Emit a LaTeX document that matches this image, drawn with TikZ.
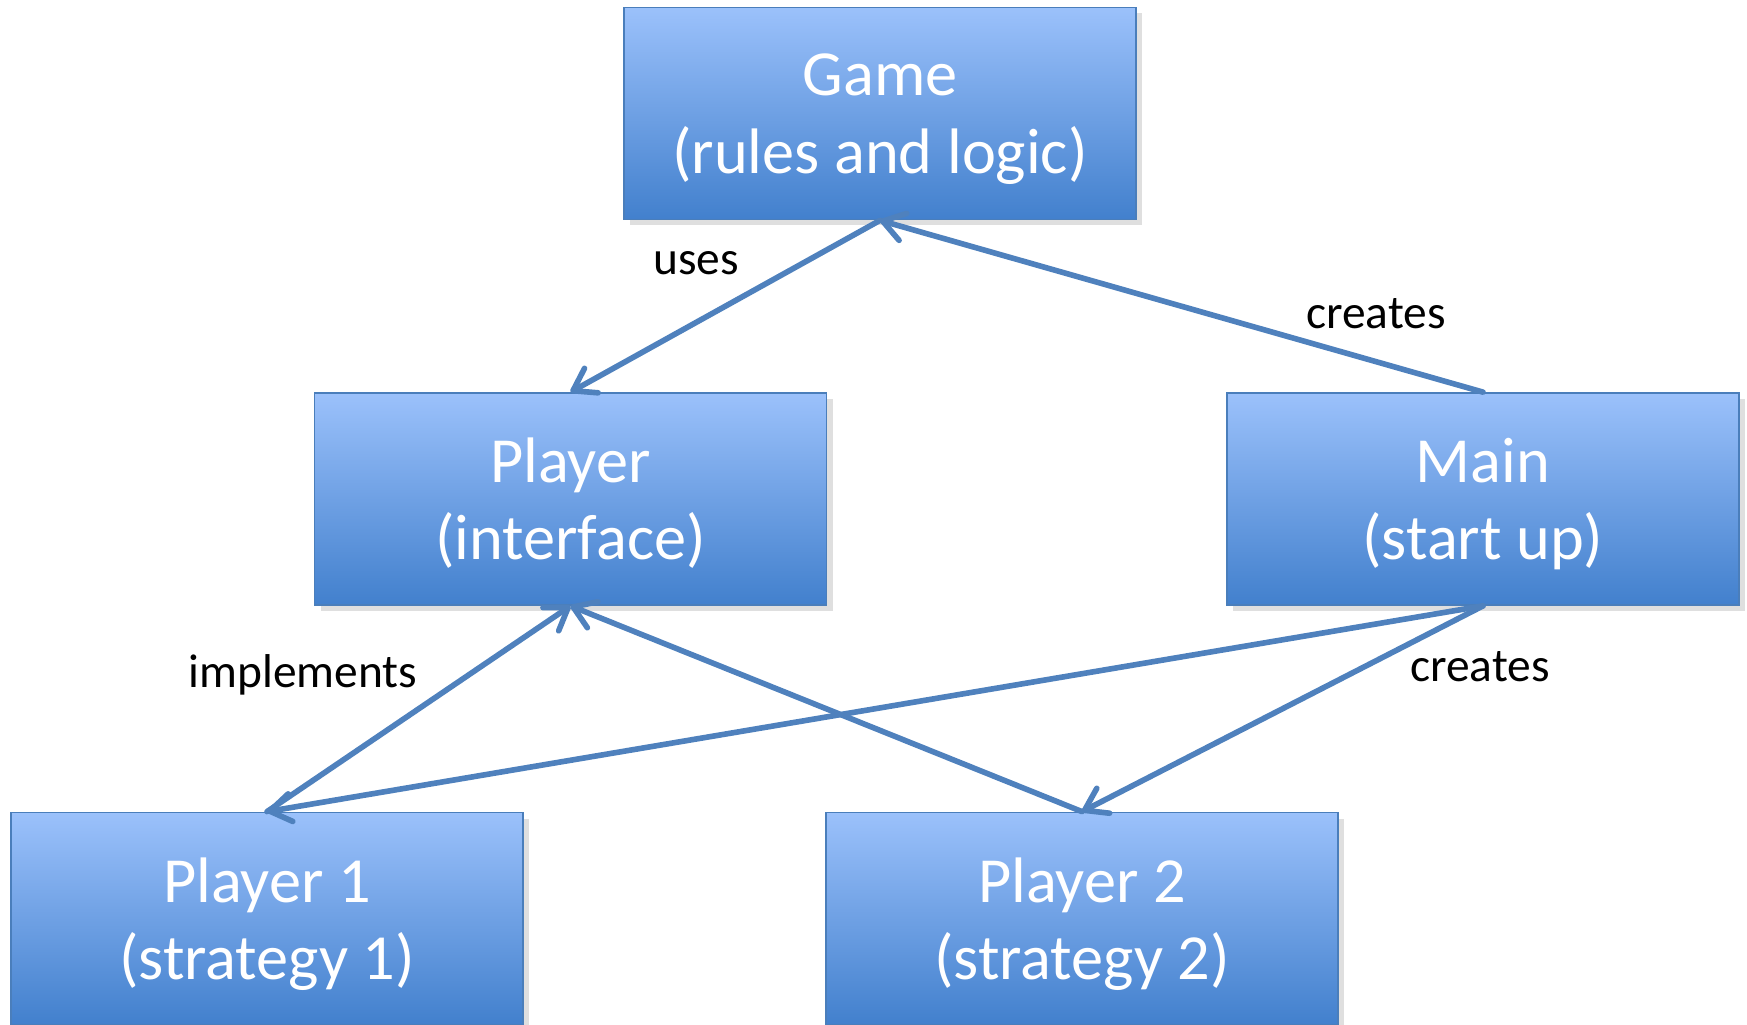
\documentclass[tikz,border=0pt]{standalone}
\usepackage{fontspec}
\setmainfont{Carlito}
\usetikzlibrary{arrows.meta,shadows}

\definecolor{boxtop}{RGB}{155,193,251}
\definecolor{boxmid}{RGB}{120,163,232}
\definecolor{boxbot}{RGB}{66,128,205}
\definecolor{boxedge}{RGB}{74,126,187}
\definecolor{link}{RGB}{79,129,189}

\begin{document}
\begin{tikzpicture}[
		cls/.style={rectangle, draw=boxedge, line width=0.5pt, top color=boxtop, middle color=boxmid, bottom color=boxbot, minimum width=5.12cm, minimum height=2.12cm, inner sep=0pt, align=center, text=white, text depth=0pt, font=\fontsize{18.3}{22}\selectfont, drop shadow={opacity=0.25, shadow xshift=0.6mm, shadow yshift=-0.6mm}},
		rel/.style={draw=link, line width=1.6pt, line cap=round, -{Straight Barb[length=2.1mm, width=2.8mm, round]}},
		lbl/.style={font=\fontsize{13.5}{16}\selectfont, inner sep=0pt}
	]
			\useasboundingbox (0,0) rectangle (17.47,10.24);
			% classes
			\node[cls] (game) at (8.80,9.105) {Game\\(rules and logic)};
			\node[cls] (player) at (5.705,5.25) {Player\\(interface)};
			\node[cls] (main) at (14.83,5.25) {Main\\(start up)};
			\node[cls] (p1) at (2.67,1.055) {Player 1\\(strategy 1)};
			\node[cls] (p2) at (10.82,1.055) {Player 2\\(strategy 2)};
			% relations
			\draw[rel] (game.south) -- (player.north);
			\draw[rel] (main.north) -- (game.south);
			\draw[rel] (p1.north) -- (player.south);
			\draw[rel] (p2.north) -- (player.south);
			\draw[rel] (main.south) -- (p1.north);
			\draw[rel] (main.south) -- (p2.north);
			\node[lbl] (uses) at (6.96,7.61) {uses};
			\node[lbl] (creates1) at (13.76,7.10) {creates};
			\node[lbl] (impl) at (3.03,3.49) {implements};
			\node[lbl] (creates2) at (14.80,3.57) {creates};
		\end{tikzpicture}
\end{document}
